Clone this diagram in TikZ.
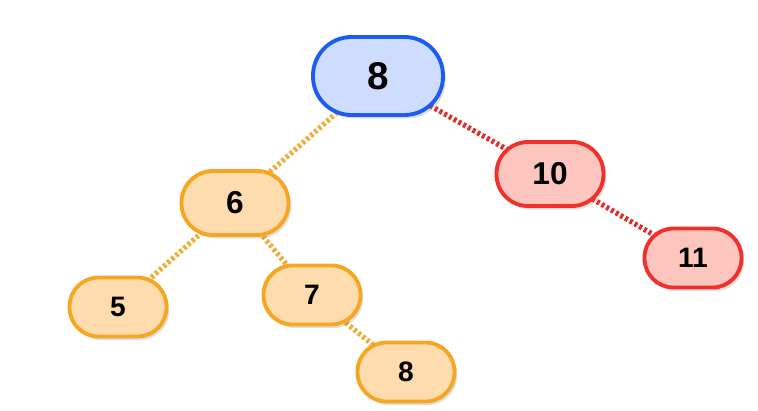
\documentclass[tikz,border=0pt]{standalone}
\usepackage{fontspec}
\setmainfont{Liberation Sans}
\usetikzlibrary{%
	positioning,%
	shadows,%
	backgrounds,%
}
\definecolor{cblue}{RGB}{28, 92, 240}
\definecolor{cbluelight}{RGB}{206, 220, 253}
\definecolor{corange}{RGB}{245, 166, 35}
\definecolor{corangelight}{RGB}{255, 220, 174}
\definecolor{cred}{RGB}{240, 48, 42}
\definecolor{credlight}{RGB}{252, 198, 190}
\definecolor{cedgeorange}{RGB}{238, 174, 58}
\definecolor{cedgered}{RGB}{222, 48, 46}
\tikzset{
	treenode/.style={%
			draw,%
			rectangle,%
			line width=2.2pt,%
			font=\bfseries,%
			drop shadow={shadow xshift=1.5pt, shadow yshift=-2pt, opacity=0.25}},%
	rootnode/.style={%
			treenode,%
			draw=cblue,%
			fill=cbluelight,%
			rounded corners=0.77cm,%
			minimum width=2.6cm,%
			minimum height=1.56cm,%
			font=\bfseries\fontsize{22}{26}\selectfont},%
	leftnode/.style={%
			treenode,%
			draw=corange,%
			fill=corangelight},%
	rightnode/.style={%
			treenode,%
			draw=cred,%
			fill=credlight},%
	midnode/.style={%
			rounded corners=0.63cm,%
			minimum width=2.14cm,%
			minimum height=1.28cm,%
			font=\bfseries\fontsize{18}{22}\selectfont},%
	leafnode/.style={%
			rounded corners=0.58cm,%
			minimum width=1.94cm,%
			minimum height=1.18cm,%
			font=\bfseries\fontsize{16}{19}\selectfont},%
	leftedge/.style={%
			draw=cedgeorange,%
			line width=3pt,%
			dash pattern=on 1.7pt off 1.4pt},%
	rightedge/.style={%
			draw=cedgered,%
			line width=3pt,%
			dash pattern=on 1.7pt off 1.4pt},%
}

\begin{document}
\begin{tikzpicture}[on grid]%
	\useasboundingbox (0,0) rectangle (15.16,8.2);

	\node[rootnode] (root) at (7.56,6.68) {8};

	\node[leftnode, midnode] (six) [below left=2.54cm and 2.86cm of root] {6};
	\node[rightnode, midnode] (ten) [below right=1.96cm and 3.44cm of root] {10};

	\node[leftnode, leafnode] (five) [below left=2.08cm and 2.34cm of six] {5};
	\node[leftnode, leafnode] (seven) [below right=1.84cm and 1.54cm of six] {7};
	\node[leftnode, leafnode] (eight) [below right=1.54cm and 1.88cm of seven] {8};
	\node[rightnode, leafnode] (eleven) [below right=1.68cm and 2.86cm of ten] {11};

	% edges run centre to centre, the filled nodes hide the inner part
	\begin{scope}[on background layer]
		\draw[leftedge] (root.center) -- (six.center);
		\draw[leftedge] (six.center) -- (five.center);
		\draw[leftedge] (six.center) -- (seven.center);
		\draw[leftedge] (seven.center) -- (eight.center);
		\draw[rightedge] (root.center) -- (ten.center);
		\draw[rightedge] (ten.center) -- (eleven.center);
	\end{scope}
\end{tikzpicture}
\end{document}
